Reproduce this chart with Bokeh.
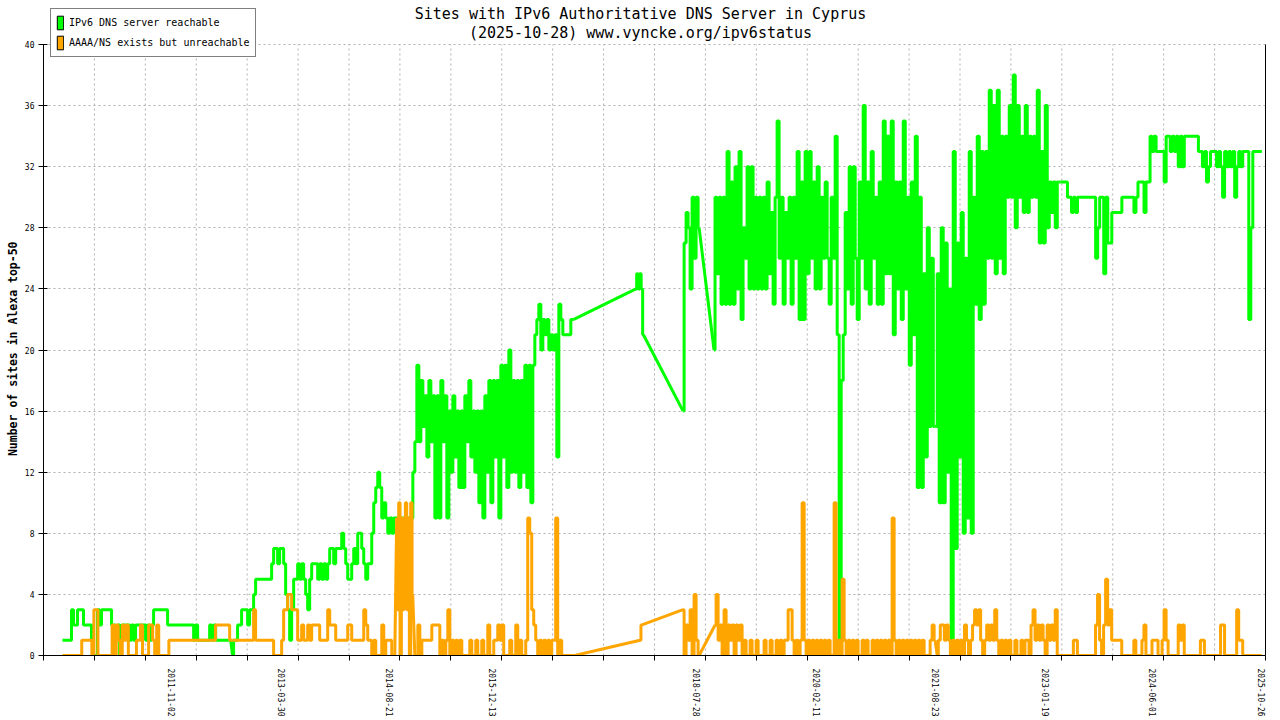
import numpy as np
import pandas as pd
from bokeh.plotting import figure
from bokeh.models import (Range1d, FixedTicker, DatetimeTickFormatter, Legend,
                          LegendItem, Label, LinearAxis)
from bokeh.embed import file_html
from bokeh.resources import INLINE

# ---------------- texts ----------------
title_line1 = "Sites with IPv6 Authoritative DNS Server in Cyprus"
title_line2 = "(2025-10-28) www.vyncke.org/ipv6status"
y_title = "Number of sites in Alexa top-50"
green_name = "IPv6 DNS server reachable"
orange_name = "AAAA/NS exists but unreachable"

# ---------------- axes ----------------
x_start, x_end = "2010-03-12", "2025-11-14"
x_tick_labels = ["2011-11-02", "2013-03-30", "2014-08-21", "2015-12-13", "2018-07-28",
                 "2020-02-11", "2021-08-23", "2023-01-19", "2024-06-01", "2025-10-26"]
y_ticks = [0, 4, 8, 12, 16, 20, 24, 28, 32, 36, 40]

# ---------------- data: "IPv6 DNS server reachable" (runs of regular samples) ----------------
green_starts = ["2010-06-09", "2012-08-14", "2014-12-02", "2017-10-17",
                "2018-05-26", "2018-10-18", "2021-08-24", "2023-03-29"]
green_ends = ["2012-08-05", "2014-11-27", "2016-12-30", "2017-11-21",
              "2018-08-09", "2021-08-15", "2023-03-19", "2025-10-28"]
green_1 = [1, 1, 1, 1, 1, 3, 2, 2, 3, 3, 3, 2, 2, 2, 2, 1, 0, 0, 3, 2, 3, 3, 3, 3, 3, 2, 2, 1, 2, 0,
           2, 2, 2, 2, 1, 2, 1, 2, 2, 2, 2, 2, 1, 2, 1, 2, 3, 3, 3, 3, 3, 3, 3,
           2, 2, 2, 2, 2, 2, 2, 2, 2, 2, 2, 2, 2, 1, 2, 1, 1, 1, 1, 1, 1, 2, 1, 2,
           1, 1, 1, 1, 1, 1, 1, 1]
green_2 = [0, 1, 1, 2, 2, 3, 3, 3, 2, 3, 3, 4, 5, 5, 5, 5, 5, 5, 5, 5,
           6, 7, 7, 6, 7, 7, 6, 4, 3, 1, 3, 5, 5, 6, 5, 6, 5, 4, 3, 5, 6, 6, 6, 5, 6, 5, 6, 5, 6,
           7, 7, 6, 7, 7, 7, 8, 7, 6, 5, 5, 6, 7, 6, 8, 8, 7, 6, 5, 6, 6, 8, 10, 11, 12, 11,
           9, 10, 9, 8, 9, 8, 9, 9, 8, 9, 9, 8, 9, 9, 8]
green_3 = [9, 12, 14, 19, 14, 18, 15, 17, 13, 18, 14, 17, 9, 17, 9, 18, 14, 17, 9, 16,
           12, 17, 13, 16, 11, 16, 11, 17, 14, 18, 13, 16, 12, 16, 10, 16, 9, 17, 12, 18,
           10, 18, 13, 18, 9, 19, 13, 19, 11, 20, 12, 18, 12, 18, 11, 18, 12, 19, 11, 19,
           10, 19, 21, 22, 23, 20, 22, 21, 22, 20, 21, 20, 21, 13, 23, 22, 21, 21, 21, 21,
           22, 22]
green_4 = [24, 25, 24, 25, 24, 21]
green_5 = [16, 27, 29, 28, 24, 30, 26, 30, 28]
green_6 = [20, 30, 25, 30, 23, 30, 23, 33, 23, 31, 23, 32, 24, 33, 22, 28, 26, 32, 24, 32,
           24, 30, 24, 30, 24, 30, 24, 31, 25, 29, 23, 30, 35, 26, 30, 23, 29, 26, 30, 23,
           30, 26, 33, 22, 31, 22, 33, 25, 33, 26, 31, 24, 32, 24, 30, 26, 31, 26, 23, 30,
           26, 34, 21, 0, 18, 21, 29, 24, 32, 23, 32, 26, 22, 31, 26, 36, 24, 31, 23, 33,
           26, 30, 23, 31, 23, 35, 25, 34, 25, 35, 21, 31, 24, 31, 22, 35, 24, 30, 19, 31,
           21, 34, 11, 30, 11, 25, 13, 28, 15, 26, 15]
green_7 = [15, 25, 10, 28, 10, 27, 12, 24, 0, 33, 7, 27, 13, 29, 8, 26, 9, 33, 8, 30,
           23, 34, 22, 33, 23, 33, 26, 37, 26, 36, 25, 37, 26, 34, 25, 34, 30, 36, 30, 38,
           28, 36, 30, 34, 29, 36, 29, 34, 30, 34, 30, 37, 27, 33, 27, 36, 28, 31, 29, 31,
           28, 31]
green_8 = [31, 31, 31, 31, 30, 30, 29, 30, 29, 30, 30, 30, 30, 30, 30, 30, 30, 30,
           26, 28, 30, 30, 25, 30, 27, 27, 29, 29, 29, 29, 29, 30, 30, 30, 30, 30, 30,
           29, 30, 31, 31, 31, 29, 31, 31, 34, 33, 34, 33, 33, 33, 33, 31, 34, 34,
           33, 34, 33, 34, 32, 34, 32, 34, 34, 34, 34, 34, 34, 34,
           33, 33, 32, 33, 31, 32, 33, 33, 33, 32, 33, 32, 30, 33, 32, 33, 32, 33, 30, 32,
           33, 32, 33, 33, 33, 22, 28, 33, 33, 33, 33, 33]

# ---------------- data: "AAAA/NS exists but unreachable" ----------------
orange_starts = ["2010-06-09", "2012-08-14", "2014-09-22", "2014-12-16",
                 "2017-11-05", "2018-05-26", "2018-10-23", "2021-08-29"]
orange_ends = ["2012-08-05", "2014-09-13", "2014-12-06", "2017-01-03",
               "2017-11-14", "2018-08-09", "2021-08-19", "2025-10-28"]
orange_1 = [0, 0, 0, 0, 0, 0, 0, 0, 0, 0, 1, 1, 1, 1, 1, 0, 3, 3, 0, 0, 0, 0, 0, 0, 0,
            2, 0, 2, 1, 0, 2, 1, 2, 0, 0, 0, 0, 1, 1, 2, 0, 0, 0, 2, 2, 1, 0, 2, 0,
            0, 0, 0, 0, 1, 1, 1, 1, 1, 1, 1, 1, 1, 1, 1, 1, 1, 1, 1, 1, 1, 1, 1, 1, 1, 1, 1,
            2, 2, 2, 2, 2, 2, 2, 1]
orange_2 = [1, 1, 1, 1, 1, 1, 1, 1, 1, 1, 1, 3, 1, 1, 1, 1, 1, 1, 1, 1, 1, 0, 0, 0, 0,
            1, 3, 3, 4, 4, 3, 3, 3, 1, 1, 2, 1, 1, 2, 1, 2, 2, 2, 2, 1,
            1, 1, 1, 3, 2, 2, 2, 1, 1, 1, 1, 1, 1, 2, 2, 1, 1, 1, 1, 1,
            1, 3, 2, 1, 1, 0, 1, 0, 0, 0, 2, 0, 1, 1, 1, 0, 0]
orange_3 = [9, 3, 10, 0, 9, 3, 9, 10, 3, 9, 0, 10, 4]
orange_4 = [0, 0, 2, 0, 1, 1, 1, 1, 1, 2, 2, 2, 2, 0, 1, 0, 1, 3, 0, 1,
            0, 1, 0, 1, 0, 0, 0, 0, 1, 0, 0, 1, 0, 0, 1, 0, 0, 2, 0, 0,
            1, 1, 2, 1, 2, 0, 0, 0, 1, 0, 0, 2, 0, 1, 0, 0, 1, 9, 8, 3,
            2, 1, 0, 1, 0, 1, 0, 1, 0, 1, 1, 9, 0, 1, 0, 0, 0, 0, 0, 0, 0]
orange_5 = [1, 2]
orange_6 = [3, 0, 2, 1, 3, 0, 4, 1, 0]
orange_7 = [2, 4, 1, 2, 0, 3, 0, 2, 1, 2, 0, 2, 1, 2, 0, 1, 0, 0, 1, 0,
            0, 1, 0, 0, 0, 1, 0, 0, 1, 0, 0, 1, 0, 1, 0, 1, 1, 3, 3, 1,
            0, 1, 0, 1, 10, 1, 0, 1, 0, 1, 0, 1, 0, 1, 0, 1, 0, 1, 0, 0,
            10, 0, 1, 0, 5, 1, 0, 1, 0, 1, 0, 1, 0, 0, 1, 0, 1, 0, 0, 1,
            0, 1, 0, 1, 0, 1, 0, 1, 0, 9, 1, 0, 1, 0, 1, 0, 1, 0, 1, 0,
            1, 0, 1, 0, 1, 0, 0, 0, 1, 2, 1]
orange_8 = [0, 1, 2, 2, 1, 2, 1, 0, 1, 0, 1, 0, 1, 0, 2, 1, 0, 1, 2, 3,
            2, 3, 1, 0, 1, 2, 1, 2, 1, 3, 1, 0, 1, 0, 1, 0, 1, 0, 0, 1,
            0, 0, 1, 0, 1, 1, 0, 2, 3, 1, 2, 1, 2, 1, 0, 2, 1, 2, 1, 3,
            0, 0, 0, 0, 0, 0, 0, 0, 1, 1, 0, 0, 0, 0, 0, 0, 0, 0, 0,
            2, 4, 1, 0, 2, 5, 2, 3, 1, 1, 1, 1, 1, 0, 0, 0, 0, 0, 0,
            1, 0, 0, 0, 1, 2, 0, 0, 0, 1, 1, 1, 0, 0, 1, 3, 1, 0, 0, 0,
            0, 0, 2, 1, 2, 0, 0, 0, 0, 0, 0, 0, 0, 1, 1, 0, 0, 0, 0, 0, 0, 0, 0,
            2, 2, 0, 0, 0, 0, 0, 0, 3, 1, 1, 0, 0, 0, 0, 0, 0, 0, 0, 0, 0]

GREEN = "#00ff00"
ORANGE = "#ffa500"
GRID = "#b0b0b0"
MONO = "DejaVu Sans Mono"

EPOCH = pd.Timestamp("1970-01-01")


def to_ms(idx):
    return np.asarray((pd.DatetimeIndex(idx) - EPOCH) // pd.Timedelta(milliseconds=1), dtype=float)


def build(starts, ends, parts):
    segs = []
    for s, e, vals in zip(starts, ends, parts):
        segs.append((to_ms(pd.date_range(s, e, periods=len(vals))), np.asarray(vals, dtype=float)))
    return segs


green_segs = build(green_starts, green_ends,
                   [green_1, green_2, green_3, green_4, green_5, green_6, green_7, green_8])
orange_segs = build(orange_starts, orange_ends,
                    [orange_1, orange_2, orange_3, orange_4, orange_5, orange_6, orange_7, orange_8])

xs_ms, xe_ms = to_ms([x_start, x_end])
label_ms = list(to_ms(x_tick_labels))
grid_ms = list(np.linspace(xs_ms, xe_ms, 25))

# layout: the frame spans from the canvas top to the x axis; the 0..40 plot box
# takes its lower 611 px, the band above holds the titles and the legend
W, H = 1280, 720
FRAME_H = 655
BOX_H = 611
y_top = y_ticks[-1] * FRAME_H / BOX_H

p = figure(width=W, height=H, x_axis_type="datetime", output_backend="svg",
           toolbar_location=None, title=None,
           x_range=Range1d(xs_ms, xe_ms), y_range=Range1d(0, y_top),
           min_border_left=43, min_border_right=15, min_border_top=0, min_border_bottom=H - FRAME_H)
p.outline_line_color = None
p.background_fill_color = "white"
p.border_fill_color = "white"

# x axis
xa = p.xaxis[0]
xa.ticker = FixedTicker(ticks=label_ms, minor_ticks=grid_ms)
fmt = "%Y-%m-%d"
xa.formatter = DatetimeTickFormatter(microseconds=fmt, milliseconds=fmt, seconds=fmt, minsec=fmt,
                                     minutes=fmt, hourmin=fmt, hours=fmt, days=fmt,
                                     months=fmt, years=fmt)
xa.major_label_orientation = "vertical"
xa.major_tick_line_color = None
xa.major_tick_out = 0
xa.major_tick_in = 0
xa.minor_tick_line_color = "black"
xa.minor_tick_out = 5
xa.minor_tick_in = 0
xa.major_label_standoff = 8
xa.major_label_text_font = MONO
xa.major_label_text_font_size = "8px"
xa.major_label_text_color = "black"
xa.axis_line_color = "black"

# y axis
ya = p.yaxis[0]
ya.ticker = FixedTicker(ticks=y_ticks)
ya.bounds = (y_ticks[0], y_ticks[-1])
ya.major_tick_in = 4
ya.major_tick_out = 5
ya.minor_tick_line_color = None
ya.major_label_standoff = 4
ya.major_label_text_font = MONO
ya.major_label_text_font_size = "8px"
ya.major_label_text_color = "black"
# trailing no-break spaces centre the visible title on the 0..40 box instead of the frame
ya.axis_label = y_title + "\u00a0" * 6
ya.axis_label_text_font = MONO
ya.axis_label_text_font_size = "11.5px"
ya.axis_label_text_font_style = "bold"
ya.axis_label_text_color = "black"
ya.axis_label_standoff = 2
ya.axis_line_color = "black"

# right border of the plot box
ra = LinearAxis(ticker=FixedTicker(ticks=[], minor_ticks=[]), axis_line_color="black",
                bounds=(y_ticks[0], y_ticks[-1]),
                major_tick_out=0, major_tick_in=0, minor_tick_out=0, minor_tick_in=0,
                major_label_text_font_size="1px")
p.add_layout(ra, "right")

# grids (vertical grid limited to the 0..40 box)
p.xgrid.grid_line_color = None
p.xgrid.minor_grid_line_color = None
p.ygrid.grid_line_color = GRID
p.ygrid.grid_line_dash = "2 3"
p.segment(x0=grid_ms, y0=[y_ticks[0]] * len(grid_ms), x1=grid_ms, y1=[y_ticks[-1]] * len(grid_ms),
          line_color=GRID, line_dash="2 3", line_width=1)


def draw_series(segs, color):
    for x, y in segs:
        p.step(x, y, mode="center", line_color=color, line_width=3)
    # straight joins across the gaps between runs
    x0 = [s[0][-1] for s in segs[:-1]]
    y0 = [s[1][-1] for s in segs[:-1]]
    x1 = [s[0][0] for s in segs[1:]]
    y1 = [s[1][0] for s in segs[1:]]
    p.segment(x0=x0, y0=y0, x1=x1, y1=y1, line_color=color, line_width=3)


draw_series(green_segs, GREEN)
draw_series(orange_segs, ORANGE)

# legend swatches: hidden boxes that only lend their look to the legend
gq = p.quad(left=[green_segs[0][0][0]], right=[green_segs[0][0][0]], top=[0], bottom=[0],
            fill_color=GREEN, line_color="black", visible=False)
oq = p.quad(left=[orange_segs[0][0][0]], right=[orange_segs[0][0][0]], top=[0], bottom=[0],
            fill_color=ORANGE, line_color="black", visible=False)
legend = Legend(items=[LegendItem(label=green_name, renderers=[gq]),
                       LegendItem(label=orange_name, renderers=[oq])],
                location=(7, 598), margin=0, padding=5, spacing=3,
                glyph_width=8, glyph_height=17, label_height=17, label_standoff=5,
                label_text_font=MONO, label_text_font_size="10px", label_text_color="black",
                border_line_color="black", border_line_width=1,
                background_fill_color="white", background_fill_alpha=1.0,
                inactive_fill_alpha=0.0)
p.add_layout(legend)

# two-line title (screen units from the frame's lower-left corner)
p.add_layout(Label(x=597, y=642, x_units="screen", y_units="screen", text=title_line1,
                   text_align="center", text_baseline="middle", text_font=MONO,
                   text_font_size="15px", text_color="black"))
p.add_layout(Label(x=597, y=623, x_units="screen", y_units="screen", text=title_line2,
                   text_align="center", text_baseline="middle", text_font=MONO,
                   text_font_size="15px", text_color="black"))

open("out.html", "w").write(file_html(p, INLINE))
